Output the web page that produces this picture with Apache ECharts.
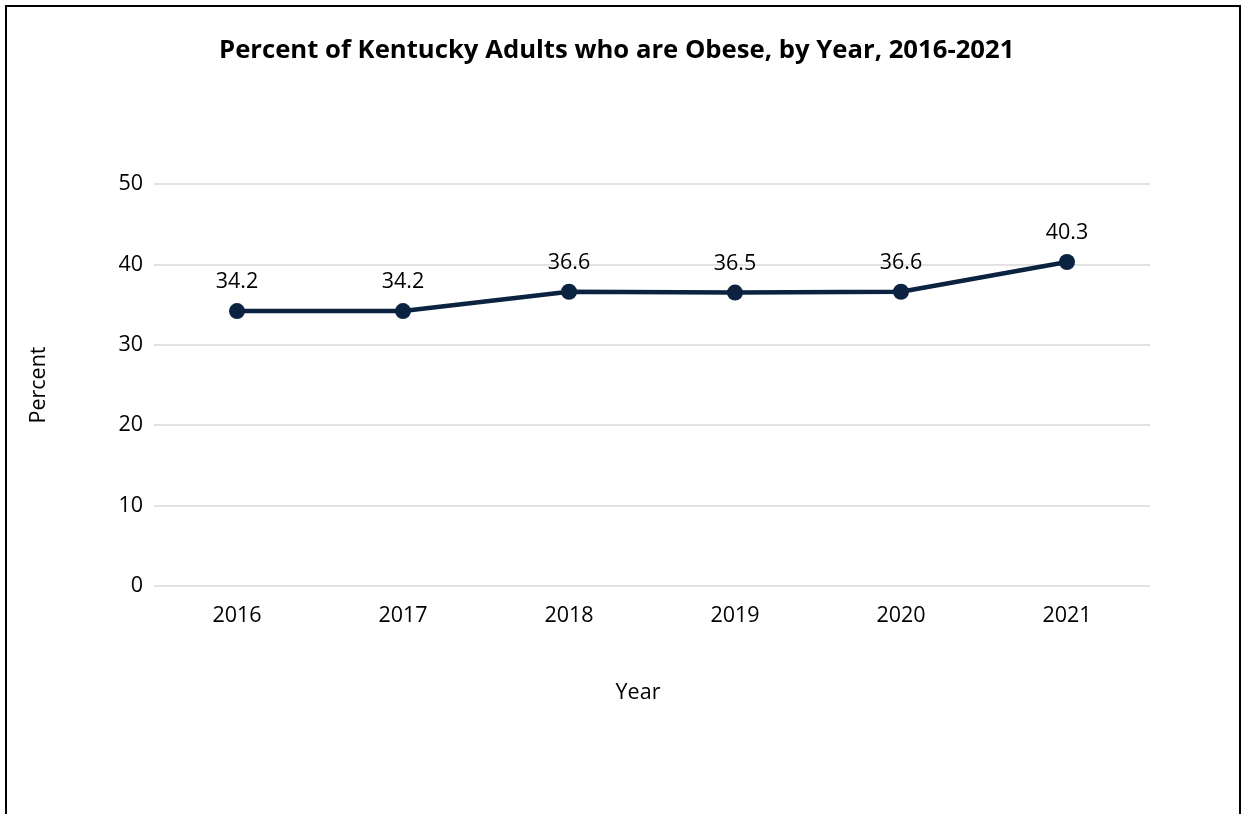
<!DOCTYPE html>
<html><head><meta charset="utf-8">
<script src="https://cdn.jsdelivr.net/npm/echarts@6/dist/echarts.min.js"></script>
<style>html,body{margin:0;padding:0;background:#fff}#c{width:1246px;height:814px}</style>
</head><body><div id="c"></div>
<script>
const years = ['2016','2017','2018','2019','2020','2021'];
const percent = [34.2, 34.2, 36.6, 36.5, 36.6, 40.3];
const yTicks = {min: 0, max: 50, interval: 10};
const titleText = 'Percent of Kentucky Adults who are Obese, by Year, 2016-2021';
const font = 'Open Sans';
const fs = 21.5;
const chart = echarts.init(document.getElementById('c'));
chart.setOption({
  animation: false,
  backgroundColor: '#fff',
  title: {text: titleText, left: 214, top: 33,
    textStyle: {fontFamily: font, fontWeight: 'bold', fontSize: 25.7, color: '#000'}},
  graphic: [{type: 'rect', shape: {x: 6, y: 6, width: 1234, height: 900},
    style: {fill: 'none', stroke: '#000', lineWidth: 2}, silent: true}],
  grid: {left: 154, right: 96, top: 184, bottom: 228},
  xAxis: {type: 'category', data: years, boundaryGap: true,
    name: 'Year', nameLocation: 'middle', nameGap: 96,
    nameTextStyle: {fontFamily: font, fontSize: fs, color: '#000', padding: [0, 28, 0, 0]},
    axisLine: {show: false}, axisTick: {show: false},
    axisLabel: {fontFamily: font, fontSize: fs, color: '#000', margin: 19}},
  yAxis: {type: 'value', min: yTicks.min, max: yTicks.max, interval: yTicks.interval,
    name: 'Percent', nameLocation: 'middle', nameGap: 104, nameRotate: 90,
    nameTextStyle: {fontFamily: font, fontSize: fs, color: '#000'},
    axisLine: {show: false}, axisTick: {show: false},
    axisLabel: {fontFamily: font, fontSize: fs, color: '#000', margin: 11},
    splitLine: {lineStyle: {color: '#d9d9d9', width: 1.5}}},
  series: [{type: 'line', data: percent, symbol: 'circle', symbolSize: 16,
    lineStyle: {color: '#0b2341', width: 4.5}, itemStyle: {color: '#0b2341'},
    label: {show: true, position: 'top', distance: 10, fontFamily: font, fontSize: fs, color: '#000',
      formatter: p => p.value.toFixed(1)}}]
});
</script></body></html>
